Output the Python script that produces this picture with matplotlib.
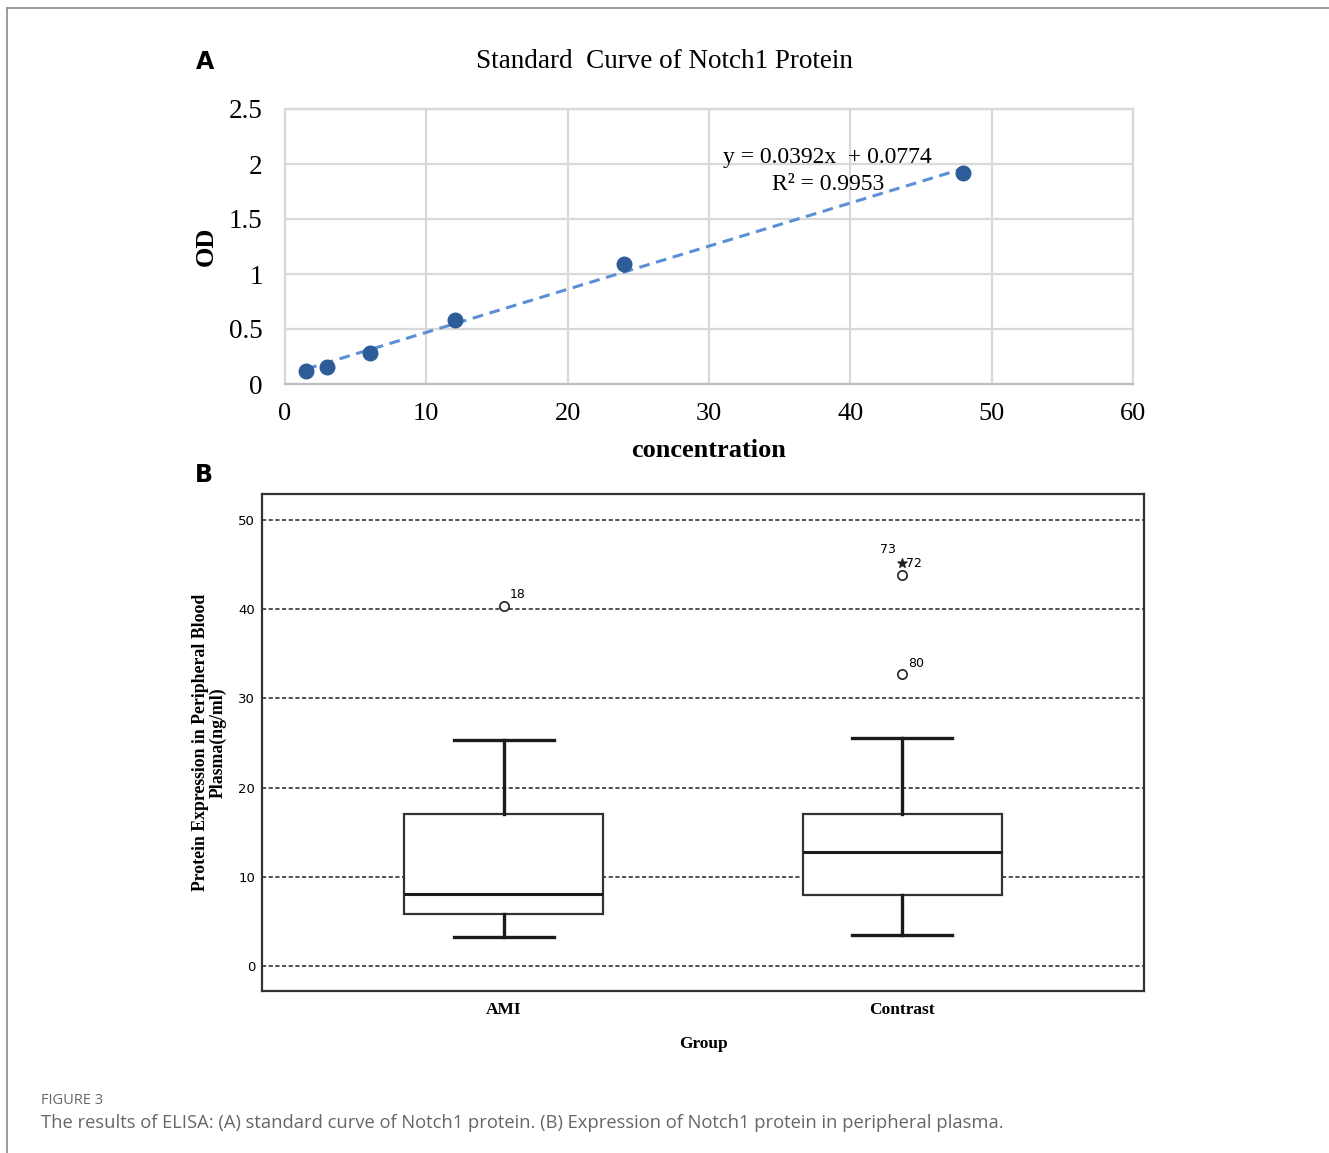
import matplotlib
matplotlib.use("Agg")
import matplotlib.pyplot as plt
from matplotlib.lines import Line2D

# panel A: standard curve
conc = [1.5, 3, 6, 12, 24, 48]
od = [0.118, 0.155, 0.28, 0.58, 1.09, 1.92]
slope, intercept = 0.0392, 0.0774

# panel B: box plot summaries
groups = ["AMI", "Contrast"]
whislo = [3.2, 3.5]
q1 = [5.8, 8.0]
med = [8.1, 12.8]
q3 = [17.0, 17.0]
whishi = [25.3, 25.5]
circle_out = [[40.4], [32.7, 43.8]]
circle_ids = [["18"], ["80", "73"]]
star_out = [[], [45.2]]
star_ids = [[], ["72"]]

W, H = 1329, 1153
fig = plt.figure(figsize=(W / 100, H / 100), dpi=100)


def px_axes(x0, y0, x1, y1):
    return fig.add_axes([x0 / W, 1 - y1 / H, (x1 - x0) / W, (y1 - y0) / H])


serif = "Liberation Serif"

# outer frame (top and left only)
fig.add_artist(Line2D([7 / W, 1], [1 - 8 / H, 1 - 8 / H], color="#8a8a8a", lw=1.2))
fig.add_artist(Line2D([7 / W, 7 / W], [0, 1 - 8 / H], color="#8a8a8a", lw=1.2))

# ---------- A ----------
ax = px_axes(285, 109, 1133, 384)
ax.set_xlim(0, 60)
ax.set_ylim(0, 2.5)
ax.set_xticks(range(0, 61, 10))
ax.set_yticks([0, 0.5, 1, 1.5, 2, 2.5])
ax.set_yticklabels(["0", "0.5", "1", "1.5", "2", "2.5"])
ax.grid(True, color="#d9d9d9", lw=1.6)
ax.set_axisbelow(True)
for s in ["top", "right", "left"]:
    ax.spines[s].set_color("#d9d9d9")
    ax.spines[s].set_linewidth(1.6)
ax.spines["bottom"].set_color("#bfbfbf")
ax.spines["bottom"].set_linewidth(1.6)
ax.tick_params(axis="y", length=0, labelsize=19.5, pad=16)
ax.tick_params(axis="x", length=0, labelsize=19, pad=14)
for t in ax.get_xticklabels() + ax.get_yticklabels():
    t.set_fontfamily(serif)

fx = [conc[0], conc[-1]]
ax.plot(fx, [slope * v + intercept for v in fx], ls=(0, (3.5, 2.2)), color="#5b8fd6", lw=2.2, zorder=2)
ax.scatter(conc, od, s=110, color="#2e5c98", zorder=3)
ax.text(38.4, 2.06, "y = 0.0392x  + 0.0774", family=serif, fontsize=17,
        ha="center", va="center")
ax.text(38.4, 1.81, "R² = 0.9953", family=serif, fontsize=17, ha="center", va="center")

ax.set_ylabel("OD", family=serif, fontsize=19, fontweight="bold", labelpad=8)
ax.set_xlabel("concentration", family=serif, fontsize=19, fontweight="bold", labelpad=10)
fig.text(664 / W, 1 - 61 / H, "Standard  Curve of Notch1 Protein", family=serif, fontsize=19.5,
         ha="center", va="center")
fig.text(205 / W, 1 - 62 / H, "A", fontsize=17, fontweight="bold", ha="center", va="center")
fig.text(204 / W, 1 - 475 / H, "B", fontsize=17, fontweight="bold", ha="center", va="center")

# ---------- B ----------
bx = px_axes(262, 494, 1144, 991)
stats = []
for i, g in enumerate(groups):
    stats.append(dict(label=g, whislo=whislo[i], q1=q1[i], med=med[i], q3=q3[i],
                      whishi=whishi[i], fliers=[]))
bx.bxp(stats, positions=[1, 2], widths=0.5, patch_artist=True, showfliers=False,
       boxprops=dict(facecolor="white", edgecolor="#333333", lw=1.6),
       medianprops=dict(color="#1a1a1a", lw=2.2),
       whiskerprops=dict(color="#1a1a1a", lw=2.4),
       capprops=dict(color="#1a1a1a", lw=2.4), capwidths=0.25, zorder=3)
for i in range(len(groups)):
    pos = i + 1
    bx.scatter([pos] * len(circle_out[i]), circle_out[i], s=45, facecolors="white",
               edgecolors="#222222", lw=1.2, zorder=4)
    for v, lab in zip(circle_out[i], circle_ids[i]):
        if lab == "73":
            bx.text(pos - 0.035, v + 2.9, lab, fontsize=9, ha="center", va="center")
        else:
            bx.text(pos + 0.035, v + 1.2, lab, fontsize=9, ha="center", va="center")
    if star_out[i]:
        bx.scatter([pos] * len(star_out[i]), star_out[i], marker="*", s=45, color="#222222", zorder=4)
        for v, lab in zip(star_out[i], star_ids[i]):
            bx.text(pos + 0.03, v - 0.1, lab, fontsize=9, ha="center", va="center")

bx.set_xlim(0.392, 2.608)
bx.set_ylim(-2.8, 52.9)
bx.set_yticks(range(0, 51, 10))
bx.yaxis.grid(True, ls=(0, (2.5, 1.5)), color="#333333", lw=1.2)
bx.set_axisbelow(True)
for s in bx.spines.values():
    s.set_linewidth(1.6)
    s.set_color("#333333")
bx.tick_params(axis="y", length=0, labelsize=9.5, pad=5)
bx.tick_params(axis="x", length=0, pad=8)
bx.set_xticks([1, 2])
bx.set_xticklabels(groups, family=serif, fontsize=12.5, fontweight="bold")
bx.set_xlabel("Group", family=serif, fontsize=12.5, fontweight="bold", labelpad=13)
bx.set_ylabel("Protein Expression in Peripheral Blood\nPlasma(ng/ml)", family=serif,
              fontsize=12.8, fontweight="bold", labelpad=8, linespacing=1.05)

# caption
fig.text(41 / W, 1 - 1100 / H, "FIGURE 3", family="Open Sans", fontsize=10.5, color="#666666",
         va="center")
fig.text(41 / W, 1 - 1123 / H,
         "The results of ELISA: (A) standard curve of Notch1 protein. (B) Expression of Notch1 protein in peripheral plasma.",
         family="Open Sans", fontsize=13.2, color="#666666", va="center")

fig.savefig("out.png", dpi=100)
